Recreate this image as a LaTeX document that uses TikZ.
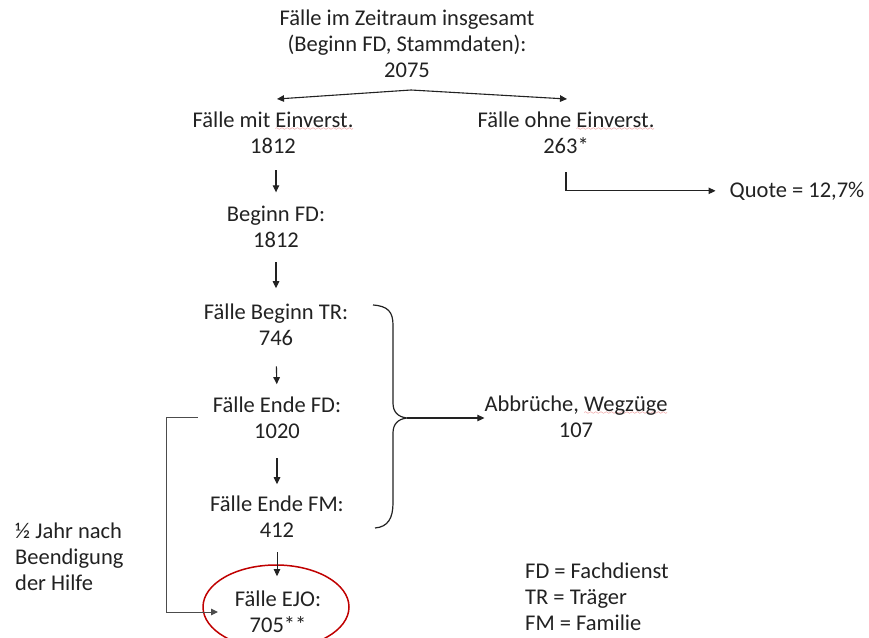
\documentclass[tikz,border=0pt]{standalone}
\usepackage{fontspec}
\setmainfont{Carlito}
\usetikzlibrary{arrows.meta}
\definecolor{ink}{HTML}{222222}
\definecolor{ovalred}{HTML}{C00000}
\definecolor{wavered}{HTML}{E03C3C}
\font\spellfont=lasy6
\newcommand\spellwave[1]{\setbox0\hbox{#1}\rlap{\raisebox{-3.5pt}{\textcolor{wavered}{\hbox to\wd0{\xleaders\hbox{\spellfont\char58}\hfil}}}}\box0}
\begin{document}
\begin{tikzpicture}[x=1pt,y=-1pt,
  lbl/.style={font=\fontsize{22.5}{26}\selectfont, text=ink, inner sep=0pt, align=center, anchor=base},
  lbll/.style={lbl, align=left, anchor=base west},
  arr/.style={draw=ink, line width=1.1pt, -{Triangle[length=7pt,width=6.5pt]}},
  bracestyle/.style={draw=ink, line width=1.2pt}]
\fill[white] (0,0) rectangle (869,637);
\useasboundingbox (0,0) rectangle (869,637);

% text nodes
\node[lbl] (top)  at (407,77)  {Fälle im Zeitraum insgesamt\\(Beginn FD, Stammdaten):\\2075};
\node[lbl] (mit)  at (273,153) {Fälle mit \spellwave{Einverst.}\\1812};
\node[lbl] (ohne) at (566,153) {Fälle ohne \spellwave{Einverst.}\\263*};
\node[lbl] (quote) at (797,197) {Quote = 12,7\%};
\node[lbl] (bfd)  at (276,247) {Beginn FD:\\1812};
\node[lbl] (btr)  at (276,345) {Fälle Beginn TR:\\746};
\node[lbl] (efd)  at (277,438) {Fälle Ende FD:\\1020};
\node[lbl] (efm)  at (277,537) {Fälle Ende FM:\\412};
\node[lbl] (ejo)  at (278,632) {Fälle EJO:\\705**};
\node[lbl] (abbr) at (576,437) {Abbrüche, \spellwave{Wegzüge}\\107};
\node[lbll] (half) at (15,590) {½ Jahr nach\\Beendigung\\der Hilfe};
\node[lbll] (legend) at (525,630) {FD = Fachdienst\\TR = Träger\\FM = Familie};

% red oval
\draw[ovalred, line width=1.5pt] (276,607) ellipse (73 and 42);

% split arrows
\coordinate (split) at (411,90);
\coordinate (splitL) at (277,99);
\coordinate (splitR) at (567,99);
\draw[arr] (split) -- (splitL);
\draw[arr] (split) -- (splitR);

% column arrows
\draw[arr, shorten <=17pt, shorten >=13pt] (bfd.north |- mit.south) -- (bfd.north);
\draw[arr, shorten <=15pt, shorten >=15pt] (bfd.south) -- (btr.north);
\draw[arr, shorten <=21pt, shorten >=12pt] (btr.south) -- (efd.north);
\draw[arr, shorten <=20pt, shorten >=11pt] (efd.south) -- (efm.north);
\draw[arr, line width=0.8pt, shorten <=15pt, shorten >=14pt] (efm.south) -- (efm.south |- ejo.north);

% 263* -> Quote
\coordinate (qv) at (566,172);
\draw[arr, shorten >=14pt] (qv) |- (quote.west);

% left bracket to EJO
\coordinate (bl2) at (166,612);
\coordinate (ejoin) at (218,612);
\draw[arr, line width=1pt, draw=black!70, shorten <=15pt] (efd.west) -| (bl2) -- (ejoin);

% brace
\coordinate (bracetip) at (407,418);
\draw[bracestyle] (373,305) .. controls (388,306) and (393,312) .. (393,325) -- (393,403)
  .. controls (393,412) and (398,417) .. (bracetip)
  .. controls (398,419) and (393,424) .. (393,433) -- (393,503)
  .. controls (393,518) and (388,527) .. (375,528);
\draw[arr] (bracetip) -- (abbr.west |- bracetip);
\end{tikzpicture}
\end{document}
